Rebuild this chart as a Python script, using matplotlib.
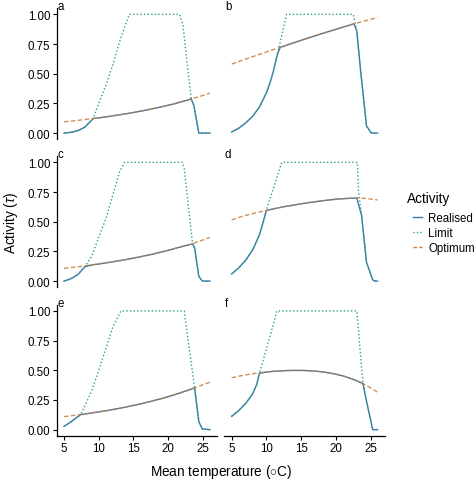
import matplotlib
matplotlib.use("Agg")
import matplotlib.pyplot as plt
from matplotlib.lines import Line2D

plt.rcParams['font.family'] = ['Liberation Sans', 'DejaVu Sans']
plt.rcParams['mathtext.fontset'] = 'custom'
plt.rcParams['mathtext.rm'] = 'Liberation Sans'
plt.rcParams['mathtext.it'] = 'Liberation Sans:italic'

# temperatures at which the optimum curves were read
temps = list(range(5, 27))

panels = ['a', 'b', 'c', 'd', 'e', 'f']

# optimum activity (dashed), one value per temperature
opt = {
    'a': [.095, .101, .107, .114, .121, .128, .136, .145, .154, .163, .173,
          .184, .196, .208, .221, .234, .249, .265, .281, .299, .317, .337],
    'b': [.581, .602, .623, .643, .663, .683, .703, .722, .742, .762, .781,
          .800, .819, .838, .856, .874, .892, .910, .926, .942, .958, .973],
    'c': [.107, .114, .120, .128, .136, .144, .153, .162, .172, .182, .193,
          .205, .217, .230, .244, .259, .275, .291, .306, .326, .346, .367],
    'd': [.516, .535, .553, .568, .582, .595, .608, .620, .631, .641, .651,
          .660, .668, .676, .683, .689, .694, .697, .699, .697, .691, .683],
    'e': [.110, .117, .124, .132, .141, .150, .159, .169, .180, .192, .204,
          .217, .231, .246, .261, .278, .296, .315, .335, .356, .379, .400],
    'f': [.437, .450, .461, .471, .479, .486, .491, .495, .498, .499, .499,
          .497, .493, .487, .478, .467, .453, .434, .412, .385, .352, .315],
}

# activity limit (dotted)
lim_x = {
    'a': [5, 6, 7, 8, 9, 9.2, 10, 11, 12, 13, 14, 14.4, 21.6, 22.1, 22.7, 23.3, 23.7, 24.4, 26],
    'b': [5, 6, 7, 8, 9, 10, 10.5, 11, 11.6, 12, 12.9, 22.5, 22.7, 23.0, 23.6, 24.4, 25.1, 26],
    'c': [5, 6, 7, 8, 9, 10, 11, 12, 13, 13.7, 22.05, 22.3, 23.5, 23.8, 24.4, 24.9, 26],
    'd': [5, 6, 7, 8, 9, 9.55, 10, 11, 12.2, 23.1, 23.25, 23.7, 24.4, 25.3, 25.6, 26],
    'e': [5, 6, 7, 7.4, 8, 9, 10, 11, 12, 13.2, 22.3, 23.8, 24.4, 24.9, 26],
    'f': [5, 6, 7, 8, 8.6, 9, 10, 11, 11.5, 23.0, 23.9, 24.4, 25.3, 26],
}
lim_y = {
    'a': [0, .006, .02, .05, .11, .122, .25, .40, .57, .77, .94, 1, 1, .92, .6, .29, .23, 0, 0],
    'b': [.01, .04, .085, .14, .22, .34, .42, .52, .67, .77, 1, 1, .95, .86, .5, .06, 0, 0],
    'c': [0, .02, .055, .12, .21, .37, .52, .72, .92, 1, 1, .95, .313, .28, .04, 0, 0],
    'd': [.06, .11, .175, .26, .39, .50, .60, .78, 1, 1, .75, .552, .158, .01, 0, 0],
    'e': [.028, .065, .11, .127, .2, .33, .5, .68, .86, 1, 1, .352, .068, .006, 0],
    'f': [.113, .16, .22, .30, .38, .475, .68, .89, 1, 1, .388, .24, 0, 0],
}

# realised activity (solid)
real_x = {
    'a': [5, 6, 7, 8, 9, 9.2, 10, 11, 12, 13, 14, 15, 16, 17, 18, 19, 20, 21, 22, 23,
          23.3, 23.7, 24.4, 26],
    'b': [5, 6, 7, 8, 9, 10, 10.5, 11, 11.6, 12, 13, 14, 15, 16, 17, 18, 19, 20, 21, 22,
          22.6, 23.0, 23.6, 24.4, 25.1, 26],
    'c': [5, 6, 7, 8, 9, 10, 11, 12, 13, 14, 15, 16, 17, 18, 19, 20, 21, 22, 23,
          23.5, 23.8, 24.4, 24.9, 26],
    'd': [5, 6, 7, 8, 9, 9.55, 10, 11, 12, 13, 14, 15, 16, 17, 18, 19, 20, 21, 22, 23,
          23.7, 24.4, 25.3, 25.6, 26],
    'e': [5, 6, 7, 7.4, 8, 9, 10, 11, 12, 13, 14, 15, 16, 17, 18, 19, 20, 21, 22, 23,
          23.8, 24.4, 24.9, 26],
    'f': [5, 6, 7, 8, 8.6, 9, 10, 11, 12, 13, 14, 15, 16, 17, 18, 19, 20, 21, 22, 23,
          23.9, 24.4, 25.3, 26],
}
real_y = {
    'a': [0, .006, .02, .05, .11, .122, .128, .136, .145, .154, .163, .173, .184, .196,
          .208, .221, .234, .249, .265, .281, .29, .23, 0, 0],
    'b': [.01, .04, .085, .14, .22, .34, .42, .52, .67, .722, .742, .762, .781, .800, .819,
          .838, .856, .874, .892, .910, .92, .86, .5, .06, 0, 0],
    'c': [0, .02, .055, .12, .136, .144, .153, .162, .172, .182, .193, .205, .217, .230,
          .244, .259, .275, .291, .306, .313, .28, .04, 0, 0],
    'd': [.06, .11, .175, .26, .39, .50, .595, .608, .620, .631, .641, .651, .660, .668,
          .676, .683, .689, .694, .697, .699, .552, .158, .01, 0, 0],
    'e': [.028, .065, .11, .127, .132, .141, .150, .159, .169, .180, .192, .204, .217,
          .231, .246, .261, .278, .296, .315, .335, .352, .068, .006, 0],
    'f': [.113, .16, .22, .30, .38, .475, .486, .491, .495, .498, .499, .499, .497, .493,
          .487, .478, .467, .453, .434, .412, .388, .24, 0, 0],
}

c_real = '#3b76ae'
c_lim = '#2f9f86'
c_opt = '#c57d3c'
lw = 1.0
dot = (0, (1.0, 1.6))
dash = (0, (3.2, 1.8))

fig = plt.figure(figsize=(4.75, 4.81), dpi=100)
W, H = 475, 481
col_left = [56.7, 224.4]
col_w = 160.5
row_bottom = [140, 288, 436.6]
row_h = 130.6

tick_fs = 8.3
title_fs = 9.8
for i, p in enumerate(panels):
    r, c = i // 2, i % 2
    ax = fig.add_axes([col_left[c] / W, 1 - row_bottom[r] / H, col_w / W, row_h / H])
    ax.plot(real_x[p], real_y[p], color=c_real, lw=lw, solid_joinstyle='round')
    ax.plot(lim_x[p], lim_y[p], color=c_lim, lw=lw, ls=dot)
    ax.plot(temps, opt[p], color=c_opt, lw=lw, ls=dash, alpha=0.85)
    ax.set_xlim(3.95, 27.05)
    ax.set_ylim(-0.05, 1.05)
    ax.set_xticks([5, 10, 15, 20, 25])
    ax.set_yticks([0, 0.25, 0.5, 0.75, 1.0])
    ax.set_yticklabels(['0.00', '0.25', '0.50', '0.75', '1.00'])
    ax.patch.set_alpha(0)
    for s in ['top', 'right']:
        ax.spines[s].set_visible(False)
    ax.tick_params(labelsize=tick_fs, length=3.2, width=0.8, pad=1.5, colors='black')
    for s in ['left', 'bottom']:
        ax.spines[s].set_linewidth(0.9)
    if c == 1:
        ax.spines['left'].set_visible(False)
        ax.tick_params(axis='y', left=False, labelleft=False)
    if r < 2:
        ax.spines['bottom'].set_visible(False)
        ax.tick_params(axis='x', bottom=False, labelbottom=False)
    ax.text(0.003, 1.0 - 1.0 / row_h, p, transform=ax.transAxes, fontsize=tick_fs,
            ha='left', va='baseline')

fig.text(11.5 / W, 1 - 223 / H, r'Activity $(\tau)$', rotation=90, fontsize=title_fs,
         ha='center', va='center')
fig.text(221 / W, 1 - 472 / H, r'Mean temperature $(\circ\mathrm{C})$', fontsize=title_fs,
         ha='center', va='center')

# legend
fig.text(407 / W, 1 - 199 / H, 'Activity', fontsize=title_fs, ha='left', va='center')
handles = [Line2D([], [], color=c_real, lw=lw),
           Line2D([], [], color=c_lim, lw=lw, ls=(0, (1.0, 1.4))),
           Line2D([], [], color=c_opt, lw=lw, ls=(0, (2.6, 1.6)))]
leg = fig.legend(handles, ['Realised', 'Limit', 'Optimum'],
                 loc='upper left', bbox_to_anchor=(412.5 / W, 1 - 213.5 / H),
                 frameon=False, fontsize=tick_fs,
                 handlelength=0.8, handletextpad=0.55, labelspacing=0.25,
                 borderpad=0, borderaxespad=0)

fig.savefig('out.png', dpi=100)
